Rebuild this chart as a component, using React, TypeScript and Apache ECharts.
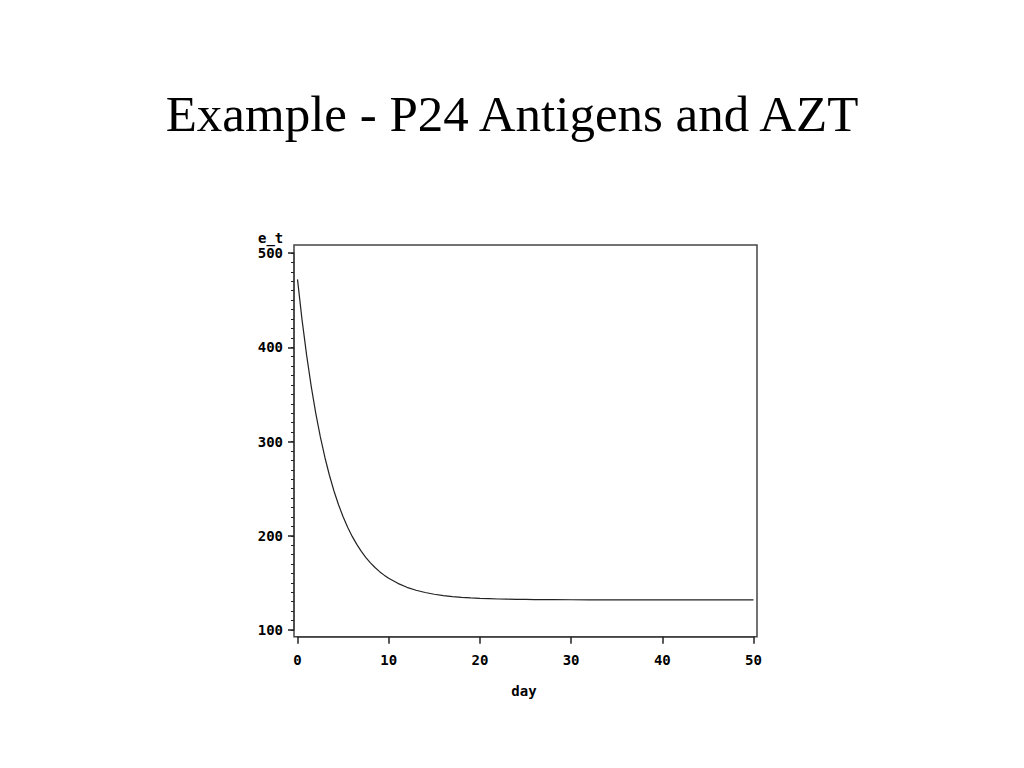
import React, { useEffect, useRef } from "react";
import * as echarts from "echarts";

const titleText = "Example - P24 Antigens and AZT";
const xName = "day";
const yName = "e_t";
const days = [
  0, 0.5, 1, 1.5, 2, 2.5, 3, 3.5, 4, 4.5, 5, 5.5, 6, 6.5, 7, 7.5, 8, 8.5, 9, 9.5, 10,
  11, 12, 13, 14, 15, 16, 17, 18, 19, 20, 21, 22, 23, 24, 25, 26, 27, 28, 30, 32, 35, 40, 45, 50,
];
const eT = [
  472, 429.1, 391.6, 358.8, 330.1, 305.1, 283.3, 264.2, 247.5, 232.9, 220.2, 209.0, 199.3, 190.8,
  183.4, 176.9, 171.2, 166.3, 161.9, 158.2, 154.9,
  149.5, 145.3, 142.2, 139.8, 137.9, 136.5, 135.5, 134.6, 134.0, 133.5, 133.2, 132.9, 132.7, 132.5,
  132.4, 132.3, 132.2, 132.2, 132.1, 132, 132, 132, 132, 132,
];
const xTicks = [0, 10, 20, 30, 40, 50];
const yTicks = [100, 200, 300, 400, 500];

export default function App() {
  const ref = useRef<HTMLDivElement>(null);
  useEffect(() => {
    if (!ref.current) return;
    const chart = echarts.init(ref.current, null, { renderer: "svg" });
    const tickFont = {
      fontFamily: "DejaVu Sans Mono",
      fontWeight: "bold" as const,
      fontSize: 14,
      color: "#000",
    };
    chart.setOption({
      animation: false,
      backgroundColor: "#fff",
      title: {
        text: titleText,
        left: "center",
        top: 83,
        textStyle: { fontFamily: "Liberation Serif", fontWeight: "normal", fontSize: 51, color: "#000" },
      },
      grid: { left: 297.5, right: 270.5, top: 253, bottom: 138 },
      xAxis: {
        type: "value",
        min: xTicks[0],
        max: xTicks[xTicks.length - 1],
        interval: 10,
        offset: 6.7,
        axisLine: { show: true, onZero: false, lineStyle: { color: "#444", width: 1.5 } },
        axisTick: { show: true, length: 7, lineStyle: { color: "#222", width: 1.5 } },
        axisLabel: { ...tickFont, margin: 16 },
        splitLine: { show: false },
      },
      yAxis: [
        {
          type: "value",
          min: yTicks[0],
          max: yTicks[yTicks.length - 1],
          interval: 100,
          offset: 3.5,
          axisLine: { show: true, onZero: false, lineStyle: { color: "#444", width: 1.5 } },
          axisTick: { show: true, length: 6, lineStyle: { color: "#222", width: 1.5 } },
          axisLabel: { ...tickFont, margin: 11 },
          splitLine: { show: false },
        },
        {
          type: "value",
          position: "left",
          min: yTicks[0],
          max: yTicks[yTicks.length - 1],
          interval: 10,
          offset: 3.5,
          axisLine: { show: false, onZero: false },
          axisTick: { show: true, length: 3, lineStyle: { color: "#222", width: 1 } },
          axisLabel: { show: false },
          splitLine: { show: false },
        },
      ],
      graphic: [
        {
          type: "rect",
          shape: { x: 294, y: 245, width: 463, height: 391.7 },
          style: { fill: "none", stroke: "#444", lineWidth: 1.5 },
          silent: true,
        },
        {
          type: "text",
          x: 258,
          y: 237.5,
          style: { text: yName, ...tickFont, fill: "#000", textAlign: "left", textVerticalAlign: "middle" },
        },
        {
          type: "text",
          x: 524,
          y: 691,
          style: { text: xName, ...tickFont, fill: "#000", textAlign: "center", textVerticalAlign: "middle" },
        },
      ],
      series: [
        {
          type: "line",
          yAxisIndex: 0,
          data: days.map((d, i) => [d, eT[i]]),
          showSymbol: false,
          smooth: false,
          lineStyle: { color: "#222", width: 1.2 },
        },
      ],
    });
    return () => chart.dispose();
  }, []);
  return (
    <div
      ref={ref}
      style={{ position: "fixed", left: 0, top: 0, width: 1024, height: 768, background: "#fff" }}
    />
  );
}
